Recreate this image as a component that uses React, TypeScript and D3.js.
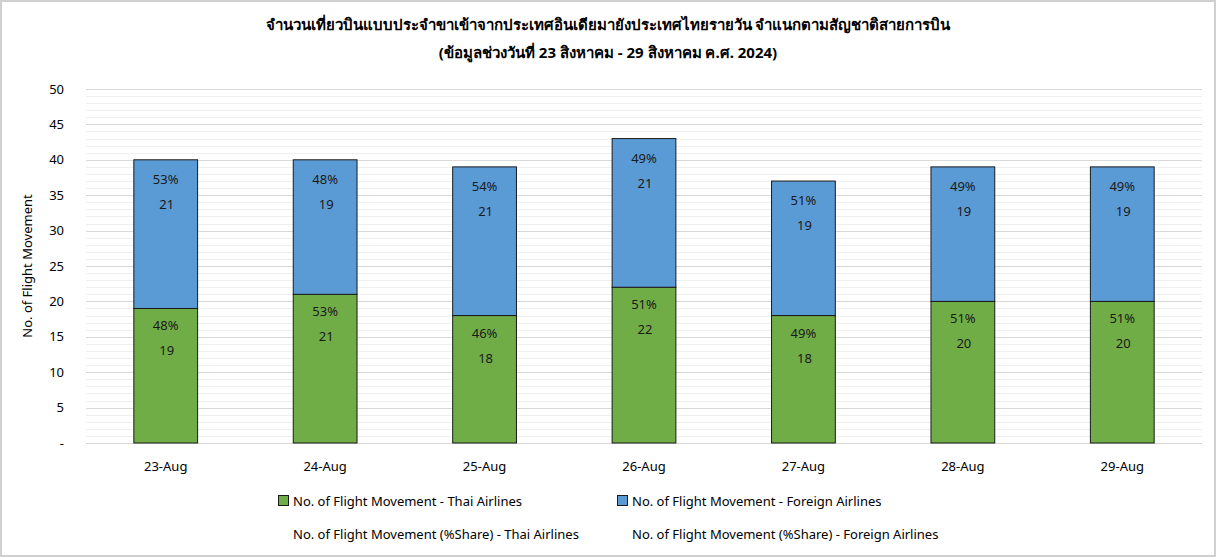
import React, { useRef, useEffect } from 'react';
import * as d3 from 'd3';

const days = ['23-Aug', '24-Aug', '25-Aug', '26-Aug', '27-Aug', '28-Aug', '29-Aug'];
const thaiFlights = [19, 21, 18, 22, 18, 20, 20];
const foreignFlights = [21, 19, 21, 21, 19, 19, 19];
const thaiShare = ['48%', '53%', '46%', '51%', '49%', '51%', '51%'];
const foreignShare = ['53%', '48%', '54%', '49%', '51%', '49%', '49%'];
const yTicks = [0, 5, 10, 15, 20, 25, 30, 35, 40, 45, 50];

const titleLine1 = 'จำนวนเที่ยวบินแบบประจำขาเข้าจากประเทศอินเดียมายังประเทศไทยรายวัน  จำแนกตามสัญชาติสายการบิน';
const titleLine2 = '(ข้อมูลช่วงวันที่ 23 สิงหาคม - 29 สิงหาคม ค.ศ. 2024)';

const W = 1216;
const H = 558;
const FONT = "Tahoma, 'Noto Sans', 'DejaVu Sans', sans-serif";

const App = () => {
  const svgRef = useRef(null);

  useEffect(() => {
    const svg = d3.select(svgRef.current);
    svg.selectAll('*').remove();

    const margin = { top: 89, right: 14, bottom: 115, left: 86 };

    const x = d3
      .scaleBand()
      .domain(days)
      .range([margin.left, W - margin.right])
      .paddingInner(0.6)
      .paddingOuter(0.3);

    const y = d3
      .scaleLinear()
      .domain([0, 50])
      .range([H - margin.bottom, margin.top]);

    // frame
    svg.append('rect').attr('x', 1).attr('y', 1).attr('width', W - 2).attr('height', H - 3)
      .attr('fill', '#fff').attr('stroke', '#d0d0d0').attr('stroke-width', 2);

    // minor grid
    svg.append('g')
      .selectAll('line')
      .data(d3.range(0, 51, 1).filter(v => v % 5 !== 0))
      .enter()
      .append('line')
      .attr('x1', margin.left)
      .attr('x2', W - margin.right)
      .attr('y1', d => Math.round(y(d)) + 0.5)
      .attr('y2', d => Math.round(y(d)) + 0.5)
      .attr('stroke', '#efefef');

    // major grid
    svg.append('g')
      .selectAll('line')
      .data(yTicks)
      .enter()
      .append('line')
      .attr('x1', margin.left)
      .attr('x2', W - margin.right)
      .attr('y1', d => Math.round(y(d)) + 0.5)
      .attr('y2', d => Math.round(y(d)) + 0.5)
      .attr('stroke', '#d9d9d9');

    // y tick labels
    svg.append('g')
      .selectAll('text')
      .data(yTicks)
      .enter()
      .append('text')
      .attr('x', 64)
      .attr('y', d => y(d) + 4.5)
      .attr('text-anchor', 'end')
      .attr('font-size', 13)
      .attr('font-family', FONT)
      .attr('fill', '#000')
      .text(d => (d === 0 ? '-' : d));

    // y axis title
    svg.append('text')
      .attr('transform', `translate(32, ${(y(0) + y(50)) / 2}) rotate(-90)`)
      .attr('text-anchor', 'middle')
      .attr('font-size', 13)
      .attr('font-family', FONT)
      .text('No. of Flight Movement');

    const rows = days.map((d, i) => ({
      day: d,
      thai: thaiFlights[i],
      foreign: foreignFlights[i],
      thaiPct: thaiShare[i],
      foreignPct: foreignShare[i],
    }));

    // thai bars
    svg.append('g')
      .selectAll('rect')
      .data(rows)
      .enter()
      .append('rect')
      .attr('x', d => x(d.day))
      .attr('y', d => y(d.thai))
      .attr('width', x.bandwidth())
      .attr('height', d => y(0) - y(d.thai))
      .attr('fill', '#70ad47')
      .attr('stroke', '#1a1a1a')
      .attr('stroke-width', 1);

    // foreign bars
    svg.append('g')
      .selectAll('rect')
      .data(rows)
      .enter()
      .append('rect')
      .attr('x', d => x(d.day))
      .attr('y', d => y(d.thai + d.foreign))
      .attr('width', x.bandwidth())
      .attr('height', d => y(d.thai) - y(d.thai + d.foreign))
      .attr('fill', '#5b9bd5')
      .attr('stroke', '#1a1a1a')
      .attr('stroke-width', 1);

    const labels = svg.append('g')
      .attr('font-family', FONT)
      .attr('font-size', 13)
      .attr('fill', '#1a1a1a')
      .attr('text-anchor', 'middle');

    rows.forEach(d => {
      const cx = x(d.day) + x.bandwidth() / 2;
      const tTop = y(d.thai);
      const fTop = y(d.thai + d.foreign);
      labels.append('text').attr('x', cx).attr('y', tTop + 22).text(d.thaiPct);
      labels.append('text').attr('x', cx + 1).attr('y', tTop + 47).text(d.thai);
      labels.append('text').attr('x', cx).attr('y', fTop + 24).text(d.foreignPct);
      labels.append('text').attr('x', cx + 1).attr('y', fTop + 49).text(d.foreign);
    });

    // x labels
    svg.append('g')
      .selectAll('text')
      .data(days)
      .enter()
      .append('text')
      .attr('x', d => x(d) + x.bandwidth() / 2)
      .attr('y', 471)
      .attr('text-anchor', 'middle')
      .attr('font-size', 13)
      .attr('font-family', FONT)
      .text(d => d);

    // title
    const title = svg.append('g')
      .attr('font-family', FONT)
      .attr('font-weight', 'bold')
      .attr('font-size', 15)
      .attr('text-anchor', 'middle')
      .style('white-space', 'pre');
    title.append('text').attr('x', 608).attr('y', 30).text(titleLine1);
    title.append('text').attr('x', 608).attr('y', 58).text(titleLine2);

    // legend
    const legend = svg.append('g').attr('font-family', FONT).attr('font-size', 13);
    const items = [
      { label: 'No. of Flight Movement - Thai Airlines', color: '#70ad47', x: 278, y: 501 },
      { label: 'No. of Flight Movement - Foreign Airlines', color: '#5b9bd5', x: 617, y: 501 },
      { label: 'No. of Flight Movement (%Share) - Thai Airlines', color: null, x: 278, y: 534 },
      { label: 'No. of Flight Movement (%Share) - Foreign Airlines', color: null, x: 617, y: 534 },
    ];
    items.forEach(it => {
      if (it.color) {
        legend.append('rect')
          .attr('x', it.x + 0.5)
          .attr('y', it.y - 5.5)
          .attr('width', 10)
          .attr('height', 10)
          .attr('fill', it.color)
          .attr('stroke', '#1a1a1a');
      }
      legend.append('text')
        .attr('x', it.x + 15)
        .attr('y', it.y + 4.5)
        .text(it.label);
    });
  }, []);

  return (
    <svg
      ref={svgRef}
      width={W}
      height={H}
      style={{ position: 'absolute', left: 0, top: 0, display: 'block' }}
    />
  );
};

export default App;
